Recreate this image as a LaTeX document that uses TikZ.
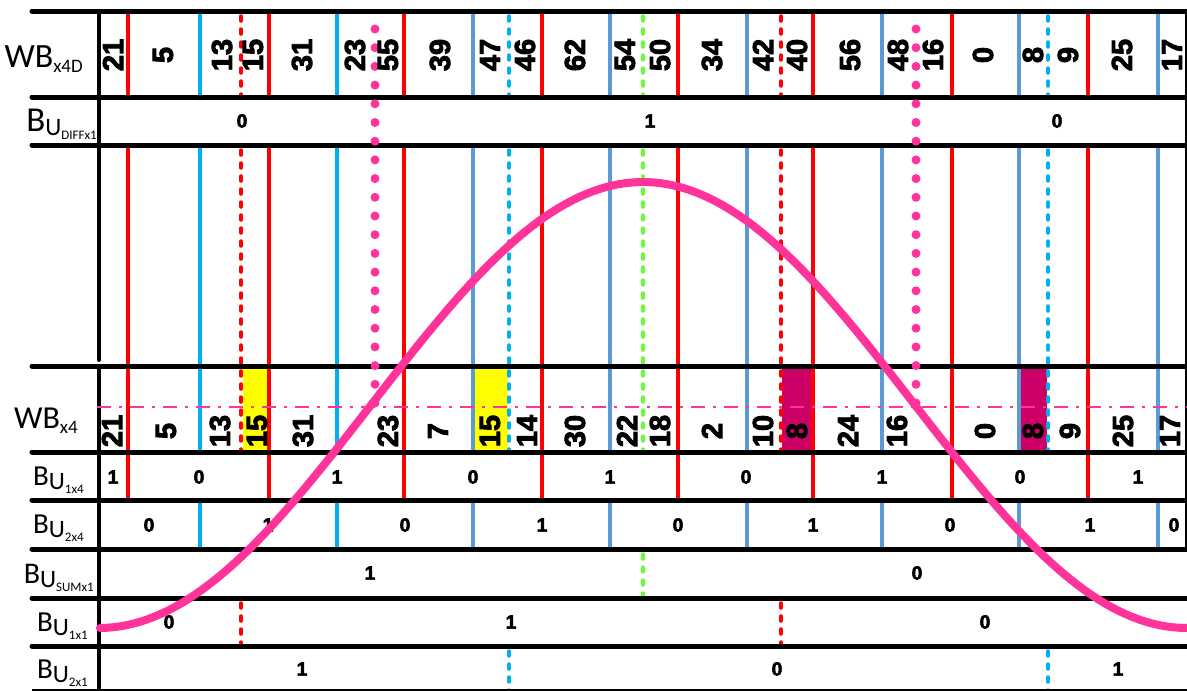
\documentclass[tikz,border=0pt]{standalone}
\usepackage{fontspec}
\setmainfont{Liberation Sans}
\newfontfamily\calib{Carlito}
\newfontfamily\heavy[FakeBold=3]{Liberation Sans Bold}
\definecolor{cred}{HTML}{FF0000}
\definecolor{ccyan}{HTML}{00B0F0}
\definecolor{cblue}{HTML}{5B9BD5}
\definecolor{cgreen}{HTML}{66FF33}
\definecolor{cpink}{HTML}{FF3399}
\definecolor{cmag}{HTML}{CC0066}
\definecolor{cyel}{HTML}{FFFF00}
\newcommand\BUlab[2]{\fontsize{#1}{#1}\selectfont B\raisebox{-4pt}{\fontsize{25}{25}\selectfont U\raisebox{-4pt}{\fontsize{13}{13}\selectfont #2}}}
\begin{document}
\begin{tikzpicture}[x=1pt,y=-1pt,
  lab/.style={inner sep=0pt, anchor=base east, font=\calib},
  num/.style={inner sep=0pt, rotate=90, font=\heavy\fontsize{29}{29}\selectfont},
  bit/.style={inner sep=0pt, font=\heavy\fontsize{19}{19}\selectfont},
  vr/.style={cred, line width=3.5pt},
  dsh/.style={line width=3.5pt, line cap=round, dash pattern=on 5pt off 8pt},
  pdots/.style={cpink, line width=9pt, line cap=round, dash pattern=on 0pt off 18.7pt},
  hl/.style={black, line width=5pt, line cap=round},
]
\useasboundingbox[fill=white] (0,0) rectangle (1187,691);

% highlighted cells in WB_x4 row
\fill[cyel] (243,368) rectangle (268,451);
\fill[cyel] (475,368) rectangle (508,451);
\fill[cmag] (782,368) rectangle (812,451);
\fill[cmag] (1020,368) rectangle (1047,451);

% solid red lines
\foreach \x in {128,269,404,542,678,813,952,1088}{
  \draw[vr] (\x,11) -- (\x,97);
  \draw[vr] (\x,145) -- (\x,500);
}
% blue lines
\foreach \x/\c in {200/ccyan,337/ccyan,473/cblue,610/cblue,747/cblue,882/cblue,1019/cblue,1158/cblue}{
  \draw[\c, line width=3.5pt] (\x,11) -- (\x,97);
  \draw[\c, line width=3.5pt] (\x,145) -- (\x,452);
  \draw[\c, line width=3.5pt] (\x,500) -- (\x,549);
}
% dashed lines
\foreach \x in {241,781}{
  \draw[dsh,cred] (\x,16) -- (\x,95);
  \draw[dsh,cred] (\x,150) -- (\x,450);
  \draw[dsh,cred] (\x,603) -- (\x,644);
}
\foreach \x in {509,1048}{
  \draw[dsh,ccyan] (\x,16) -- (\x,95);
  \draw[dsh,ccyan] (\x,150) -- (\x,450);
  \draw[dsh,ccyan] (\x,651) -- (\x,691);
}
\draw[dsh,cgreen] (643,16) -- (643,95);
\draw[dsh,cgreen] (643,150) -- (643,450);
\draw[dsh,cgreen] (643,554) -- (643,596);

% horizontal black lines
\foreach \y in {11,97,145,366,452,500,549,598,646}{
  \draw[hl] (32,\y) -- (1187,\y);
}
\draw[black, line width=2pt] (32,690) -- (1187,690);
\draw[black, line width=4pt, line cap=round] (99,11) -- (99,360);
\draw[black, line width=4pt] (99,366) -- (99,691);
\draw[black, line width=2pt] (1186,11) -- (1186,549);

% pink dotted lines
\draw[pdots] (375,29) -- (375,404);
\draw[pdots] (916,29) -- (916,404);

% dash-dot line
\draw[cpink, line width=1.6pt, dash pattern=on 14pt off 8pt on 3pt off 8pt] (97,407) -- (1187,407);

% labels
\node[lab] (lx4d) at (83,67) {\fontsize{34}{34}\selectfont WB\raisebox{-5pt}{\fontsize{19}{19}\selectfont x4D}};
\node[lab] (ldiff) at (97,131) {\BUlab{35}{DIFFx1}};
\node[lab] (lx4) at (78,428) {\fontsize{32}{32}\selectfont WB\raisebox{-5pt}{\fontsize{19}{19}\selectfont x4}};
\node[lab] (l1x4) at (84,485) {\BUlab{29}{1x4}};
\node[lab] (l2x4) at (84,533) {\BUlab{29}{2x4}};
\node[lab] (lsum) at (94,583) {\BUlab{30}{SUMx1}};
\node[lab] (l1x1) at (88,631) {\BUlab{29}{1x1}};
\node[lab] (l2x1) at (88,678) {\BUlab{29}{2x1}};

% top row numbers
\foreach \t/\x [count=\i] in {21/113,5/163,13/222,15/253,31/302,23/355,55/388,39/440,47/490,46/525,62/575,54/625,50/660,34/712,42/763,40/797,56/850,48/898,16/933,0/983,8/1033,9/1068,25/1122,17/1172}
  \node[num] (t\i) at (\x,55) {\t};
% WB_x4 row numbers
\foreach \t/\x [count=\i] in {21/112,5/166,13/220,15/257,31/303,23/388,7/438,15/490,14/527,30/575,22/627,18/660,2/712,10/763,8/797,24/848,16/897,0/985,8/1033,9/1070,25/1123,17/1170}
  \node[num] (w\i) at (\x,431) {\t};

% bit rows
\node[bit] (d1) at (242,121) {0};
\node[bit] (d2) at (650,121) {1};
\node[bit] (d3) at (1057,121) {0};
\foreach \t/\x [count=\i] in {1/113,0/199,1/337,0/473,1/610,0/746,1/882,0/1020,1/1138}
  \node[bit] (a\i) at (\x,477) {\t};
\foreach \t/\x [count=\i] in {0/149,1/268,0/405,1/542,0/678,1/813,0/950,1/1090,0/1174}
  \node[bit] (b\i) at (\x,525) {\t};
\node[bit] (s1) at (370,573) {1};
\node[bit] (s2) at (917,573) {0};
\node[bit] (u1) at (169,622) {0};
\node[bit] (u2) at (511,622) {1};
\node[bit] (u3) at (985,622) {0};
\node[bit] (v1) at (302,669) {1};
\node[bit] (v2) at (777,669) {0};
\node[bit] (v3) at (1118,669) {1};

% pink curve
\draw[cpink, line width=8pt, line cap=round] plot[domain=100:1187, samples=160] (\x,{405-223*cos(0.3308824*(\x-643))});
\end{tikzpicture}
\end{document}
